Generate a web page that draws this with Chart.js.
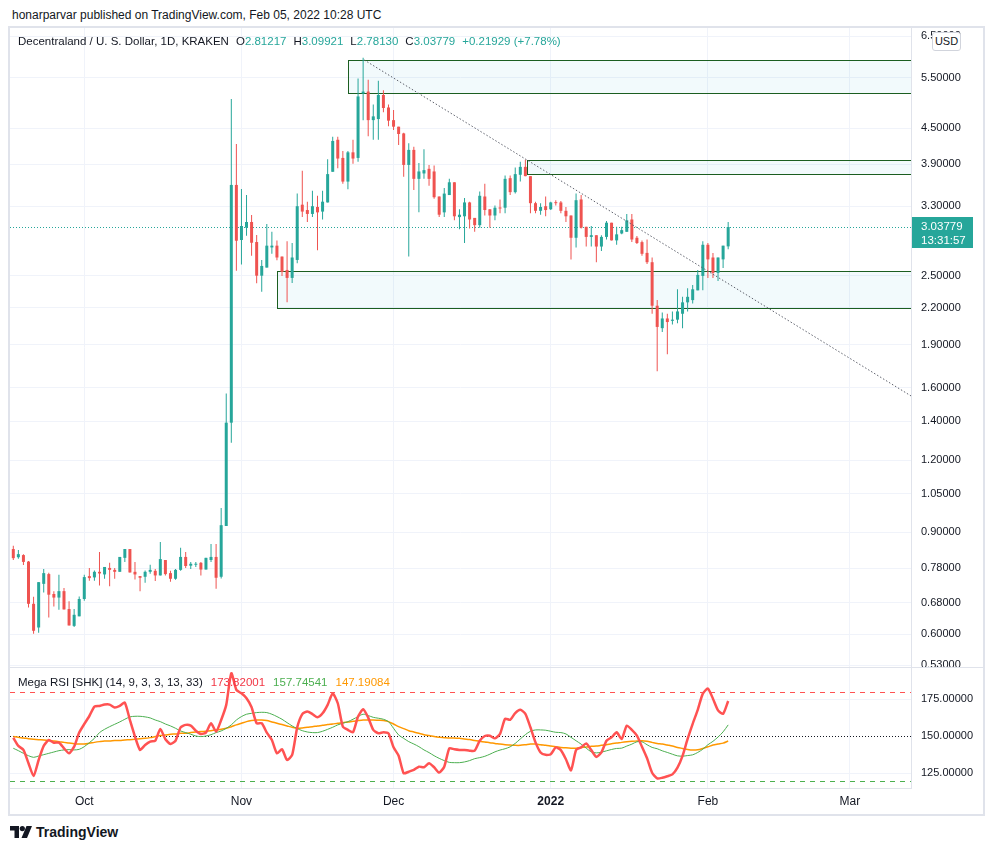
<!DOCTYPE html>
<html>
<head>
<meta charset="utf-8">
<title>Decentraland / U. S. Dollar, 1D</title>
<script src="https://cdn.jsdelivr.net/npm/chart.js@4.4.1/dist/chart.umd.min.js"></script>
<style>
  body { margin: 0; background: #fff; font-family: 'Liberation Sans', Arial, sans-serif; color: #131722; }
  #page { position: relative; width: 993px; height: 850px; overflow: hidden; }
  .abs { position: absolute; white-space: nowrap; }
  #published { left: 12px; top: 8px; font-size: 12px; }
  #frame { left: 8px; top: 26px; width: 973px; height: 786px; border: 2px solid #e0e3eb; }
  #priceCanvas { left: 10px; top: 28px; }
  #rsiCanvas { left: 10px; top: 668px; }
  #paneSep { left: 10px; top: 667px; width: 973px; height: 1px; background: #e0e3eb; }
  #legend { left: 18px; top: 35px; font-size: 11.5px; }
  #legend .v { color: #26a69a; }
  #legend .g { margin-left: 7px; }
  #rsiLegend { left: 18px; top: 676px; font-size: 11.5px; }
  #rsiLegend span { margin-left: 8px; }
  #usd { left: 932px; top: 32px; width: 27px; height: 17px; border: 1px solid #d1d4dc; border-radius: 3px;
         background: #fff; font-size: 11px; line-height: 17px; text-align: center; }
  #logo { left: 10px; top: 824px; font-size: 14px; font-weight: bold; display: flex; align-items: center; }
  #logo svg { margin-right: 4px; }
</style>
</head>
<body>
<div id="page">
  <div id="published" class="abs">honarparvar published on TradingView.com, Feb 05, 2022 10:28 UTC</div>
  <div id="frame" class="abs"></div>
  <canvas id="priceCanvas" class="abs" width="973" height="639"></canvas>
  <div id="paneSep" class="abs"></div>
  <canvas id="rsiCanvas" class="abs" width="973" height="146"></canvas>
  <div id="legend" class="abs">Decentraland / U. S. Dollar, 1D, KRAKEN<span class="g">O<span class="v">2.81217</span></span><span class="g">H<span class="v">3.09921</span></span><span class="g">L<span class="v">2.78130</span></span><span class="g">C<span class="v">3.03779</span></span><span class="g v">+0.21929 (+7.78%)</span></div>
  <div id="rsiLegend" class="abs">Mega RSI [SHK] (14, 9, 3, 3, 13, 33)<span style="color:#f23645">173.82001</span><span style="color:#4caf50">157.74541</span><span style="color:#ff9800">147.19084</span></div>
  <div id="usd" class="abs">USD</div>
  <div id="logo" class="abs">
    <svg width="22" height="12" viewBox="0 0 22 12"><path d="M0 0h9v12h-4.5v-7.5h-4.5z" fill="#131722"/><circle cx="12.3" cy="2.6" r="2.6" fill="#131722"/><path d="M16.5 0h5.5l-5 12h-5.5z" fill="#131722"/></svg>
    TradingView
  </div>
</div>

<script>
// daily candles, 2021-09-17 .. 2022-02-05 (index 0 = Sep 17)
const opens = [
  0.842, 0.815, 0.822, 0.801, 0.677, 0.616, 0.733, 0.762, 0.704, 0.694,
  0.712, 0.663, 0.620, 0.644, 0.690, 0.756, 0.752, 0.769, 0.761, 0.781,
  0.775, 0.769, 0.813, 0.842, 0.769, 0.756, 0.754, 0.769, 0.772, 0.758,
  0.806, 0.765, 0.748, 0.775, 0.816, 0.788, 0.791, 0.797, 0.776, 0.806,
  0.816, 0.754, 0.923, 1.393, 3.592, 2.884, 3.030, 3.099, 2.861, 2.502,
  2.584, 2.800, 2.820, 2.700, 2.560, 2.480, 2.664, 3.320, 3.250, 3.200,
  3.290, 3.230, 3.350, 3.785, 4.300, 4.000, 3.640, 4.090, 4.000, 5.170,
  5.210, 4.650, 4.670, 5.140, 4.890, 4.650, 4.530, 4.410, 3.890, 4.130,
  3.680, 3.760, 3.830, 3.790, 3.430, 3.220, 3.450, 3.630, 3.160, 3.170,
  3.350, 3.150, 3.060, 3.430, 3.260, 3.180, 3.280, 3.280, 3.690, 3.490,
  3.740, 3.860, 3.720, 3.340, 3.240, 3.300, 3.260, 3.350, 3.350, 3.240,
  3.180, 2.910, 3.390, 3.040, 2.920, 2.940, 2.810, 2.920, 3.090, 2.880,
  2.960, 2.980, 3.130, 2.910, 2.860, 2.740, 2.640, 2.220, 2.030, 2.110,
  2.090, 2.100, 2.150, 2.250, 2.270, 2.360, 2.500, 2.830, 2.690, 2.530,
  2.670, 2.812
];
const highs = [
  0.853, 0.839, 0.825, 0.803, 0.696, 0.738, 0.778, 0.766, 0.712, 0.760,
  0.721, 0.684, 0.663, 0.697, 0.760, 0.781, 0.773, 0.832, 0.784, 0.797,
  0.781, 0.816, 0.842, 0.842, 0.800, 0.756, 0.773, 0.791, 0.778, 0.866,
  0.806, 0.772, 0.778, 0.846, 0.832, 0.800, 0.800, 0.800, 0.813, 0.859,
  0.859, 0.992, 1.565, 5.056, 4.226, 3.534, 3.452, 3.187, 2.943, 2.664,
  3.075, 2.980, 2.880, 2.700, 2.870, 2.850, 3.470, 3.800, 3.360, 3.510,
  3.440, 3.510, 3.980, 4.350, 4.350, 4.110, 4.110, 4.300, 5.490, 5.960,
  5.460, 4.950, 5.440, 5.240, 4.950, 4.840, 4.530, 4.420, 4.240, 4.180,
  3.920, 4.140, 3.890, 3.880, 3.430, 3.550, 3.680, 3.630, 3.260, 3.410,
  3.360, 3.150, 3.500, 3.610, 3.260, 3.310, 3.390, 3.730, 3.730, 3.850,
  3.940, 3.970, 3.720, 3.360, 3.340, 3.430, 3.360, 3.380, 3.370, 3.290,
  3.180, 3.470, 3.450, 3.040, 3.050, 2.940, 2.940, 3.110, 3.090, 3.040,
  3.040, 3.200, 3.200, 2.930, 2.880, 2.890, 2.690, 2.270, 2.160, 2.150,
  2.170, 2.370, 2.300, 2.380, 2.410, 2.560, 2.870, 2.850, 2.740, 2.690,
  2.820, 3.099
];
const lows = [
  0.806, 0.810, 0.790, 0.667, 0.601, 0.603, 0.708, 0.641, 0.670, 0.661,
  0.662, 0.621, 0.617, 0.644, 0.685, 0.742, 0.742, 0.728, 0.748, 0.726,
  0.748, 0.769, 0.800, 0.767, 0.746, 0.712, 0.736, 0.763, 0.741, 0.758,
  0.758, 0.739, 0.745, 0.772, 0.781, 0.778, 0.784, 0.758, 0.776, 0.800,
  0.719, 0.749, 0.923, 1.286, 2.553, 2.615, 2.934, 2.709, 2.427, 2.348,
  2.584, 2.730, 2.660, 2.500, 2.250, 2.430, 2.630, 3.160, 3.100, 3.160,
  2.770, 3.130, 3.350, 3.785, 3.840, 3.610, 3.530, 3.910, 3.940, 4.650,
  4.360, 4.300, 4.300, 4.800, 4.540, 4.470, 4.210, 3.710, 2.700, 3.520,
  3.220, 3.680, 3.580, 3.400, 3.160, 3.160, 3.450, 3.120, 3.010, 2.850,
  3.020, 2.980, 3.030, 3.180, 3.030, 3.120, 3.210, 3.210, 3.450, 3.470,
  3.640, 3.720, 3.210, 3.210, 3.190, 3.170, 3.250, 3.310, 3.210, 3.100,
  2.670, 2.800, 3.020, 2.810, 2.810, 2.640, 2.760, 2.890, 2.880, 2.830,
  2.950, 2.980, 2.860, 2.840, 2.710, 2.620, 2.150, 1.710, 2.000, 1.830,
  2.060, 2.070, 2.030, 2.170, 2.240, 2.360, 2.360, 2.480, 2.480, 2.450,
  2.580, 2.781
];
const closes = [
  0.812, 0.825, 0.800, 0.677, 0.608, 0.738, 0.765, 0.702, 0.694, 0.712,
  0.662, 0.621, 0.648, 0.690, 0.753, 0.750, 0.769, 0.764, 0.784, 0.775,
  0.769, 0.816, 0.842, 0.767, 0.761, 0.751, 0.769, 0.775, 0.758, 0.809,
  0.762, 0.748, 0.775, 0.816, 0.787, 0.794, 0.794, 0.776, 0.813, 0.816,
  0.751, 0.926, 1.393, 3.592, 2.876, 3.050, 3.099, 2.853, 2.502, 2.601,
  2.820, 2.820, 2.690, 2.540, 2.480, 2.690, 3.300, 3.230, 3.200, 3.300,
  3.220, 3.360, 3.750, 4.280, 3.990, 3.640, 4.090, 3.990, 5.110, 5.210,
  4.650, 4.720, 5.140, 4.880, 4.640, 4.530, 4.400, 3.890, 4.130, 3.680,
  3.790, 3.810, 3.680, 3.420, 3.190, 3.470, 3.630, 3.170, 3.190, 3.350,
  3.130, 3.060, 3.440, 3.250, 3.180, 3.280, 3.270, 3.680, 3.490, 3.750,
  3.860, 3.720, 3.340, 3.240, 3.290, 3.250, 3.350, 3.340, 3.240, 3.170,
  2.910, 3.380, 3.030, 2.920, 2.940, 2.810, 2.920, 3.090, 2.880, 2.950,
  3.000, 3.120, 2.890, 2.850, 2.730, 2.640, 2.220, 2.040, 2.110, 2.080,
  2.100, 2.170, 2.250, 2.300, 2.370, 2.510, 2.830, 2.670, 2.530, 2.690,
  2.820, 3.03779
];

// Mega RSI [SHK]
const rsiMain = [
  149, 143.5, 140.8, 131.8, 123.2, 134, 143.5, 147.5, 145.7, 145.7,
  141.9, 138.5, 143, 152.5, 158.3, 163.7, 170, 170.5, 171.4, 171.4,
  169.4, 170.5, 172.7, 161, 149.8, 140.8, 144.1, 146.4, 147, 155,
  148, 144.8, 147, 156, 157.7, 157.2, 153.8, 151.6, 152.5, 158.8,
  153.2, 161, 171.2, 192.6, 181.3, 179, 175.7, 169.6, 158.8, 158.8,
  152.5, 147.5, 138.5, 141.2, 134, 137.4, 156, 165, 166.7, 165,
  162.8, 165.5, 171.2, 179, 172.3, 156.5, 154.3, 152.7, 163.3, 168.2,
  162.6, 154.3, 152, 152.7, 152, 142.6, 136.9, 125, 126.1, 127.3,
  129.5, 129.1, 131.8, 129.1, 125.5, 129.5, 141.9, 141.2, 140.8, 140.8,
  140.3, 140.3, 147, 150.2, 150.4, 148.6, 151.6, 161.8, 161.1, 165.7,
  167.9, 165.2, 156.1, 145.9, 139.1, 137.5, 137.9, 142.5, 140.7, 134.5,
  127, 140.7, 142.5, 145.2, 140.7, 136.1, 139.1, 147, 149.3, 152.7,
  148.2, 157.2, 154.3, 150.4, 142.9, 135.2, 125.4, 121.6, 122, 123,
  124.3, 128.8, 136.8, 148.2, 158.4, 167.9, 178.8, 182.2, 175.4, 167.5,
  165.2, 173.8
];
const rsiSignal = [
  141.9, 140.3, 138.5, 136.9, 135.8, 136.7, 137.6, 138.5, 139.4, 140.3,
  140.8, 141, 140.8, 141.2, 143, 145.7, 148.6, 152.5, 154.7, 156.5,
  158.1, 159.7, 161.5, 163.1, 163.5, 163.5, 163.1, 162.4, 161, 159.9,
  158.3, 157, 155.4, 153.6, 152.5, 151.4, 150.2, 149.8, 150.2, 151.1,
  152.5, 153.6, 155.4, 157.7, 161, 163.3, 164.9, 165.5, 166, 166.2,
  166, 164.9, 163.3, 161.5, 159.2, 157, 155.2, 153.8, 152.9, 152.5,
  152.5, 153.4, 154.7, 156.1, 157.7, 158.8, 159.9, 161.5, 163.3, 164.9,
  164, 162.8, 162.2, 161.5, 159.9, 155.4, 150.9, 148.6, 146.4, 144.8,
  143, 140.8, 139, 136.9, 135.1, 133.6, 132.4, 132.2, 132.2, 132.7,
  133.6, 134.9, 135.6, 136.5, 137.9, 139.5, 140.7, 141.6, 142.9, 145.2,
  148.2, 151.1, 153.4, 154.3, 154.3, 154.1, 153.4, 152.7, 152.5, 151.6,
  149.3, 147, 144.7, 142, 139.5, 138.8, 139.3, 140.2, 141.1, 141.8,
  142, 143.4, 144.7, 146.3, 146.3, 144.3, 142.5, 141.6, 140.2, 139.1,
  137.9, 136.8, 136.6, 137, 137.5, 139.1, 141.3, 144.3, 146.6, 149.5,
  153, 157.7
];
const rsiSlow = [
  149.8, 149.3, 148.9, 148.4, 148, 147.7, 147.5, 147.1, 146.8, 146.4,
  145.9, 145.5, 145, 144.8, 144.8, 145.3, 145.9, 146.4, 146.8, 146.8,
  147.1, 147.1, 147.5, 147.7, 148, 148.4, 148.6, 149.1, 149.8, 150.5,
  150.9, 151.4, 151.6, 152, 152, 152.5, 152.9, 153.2, 153.4, 153.8,
  154.3, 154.7, 155.4, 156.5, 157.7, 158.8, 159.9, 160.6, 161, 161,
  160.6, 159.7, 158.8, 157.9, 157, 156.1, 155.4, 155.6, 156.1, 156.5,
  157, 157.4, 157.9, 158.3, 158.8, 159.2, 159.7, 160.1, 160.6, 161,
  161, 161, 160.8, 160.6, 159.9, 158.3, 156.5, 155.2, 153.8, 152.9,
  152, 151.1, 150.5, 149.8, 149.3, 149.1, 148.9, 148.9, 148.6, 148.2,
  147.8, 147.2, 146.6, 146.1, 145.7, 145.2, 144.8, 144.3, 144.1, 143.9,
  143.9, 144.3, 144.8, 144.8, 144.3, 143.9, 143.4, 142.9, 142.5, 142.2,
  142, 142, 142.5, 142.7, 143.2, 143.4, 143.9, 144.3, 145, 145.4,
  145.9, 146.3, 146.6, 146.8, 147, 146.6, 145.9, 145.2, 144.8, 144.1,
  143.4, 142.5, 141.8, 141.1, 140.7, 140.9, 141.8, 142.9, 144.1, 144.8,
  145.4, 146.8
];

const priceTicks = [6.5, 5.5, 4.5, 3.9, 3.3, 2.5, 2.2, 1.9, 1.6, 1.4, 1.2, 1.05, 0.9, 0.78, 0.68, 0.6, 0.53];
const rsiTicks = [125, 150, 175];
const rsiLevels = [180, 150, 120];
const monthTicks = [14, 45, 75, 106, 137, 165];
const monthLabels = ['Oct', 'Nov', 'Dec', '2022', 'Feb', 'Mar'];

// drawn rectangles: start day index, top price, bottom price
const zoneFrom = [66, 101.3, 52];
const zoneTop = [5.91, 3.967, 2.549];
const zoneBottom = [5.18, 3.751, 2.20];
// drawn trend line: [day index, price]
const trendLine = [[69.2, 5.91], [177.1, 1.549]];

const UP = '#26a69a';
const DOWN = '#ef5350';
const FONT = "'Liberation Sans', Arial, sans-serif";
const X_MIN = -0.65, X_MAX = 177.06;

const days = closes.map((_, i) => i);
const candleColors = days.map(i => closes[i] >= opens[i] ? UP : DOWN);

// no automatic label padding: the plot must fill the canvas edge to edge
function noPad(s) {
  s.paddingTop = 0;
  s.paddingBottom = 0;
  s.paddingLeft = 0;
  s.paddingRight = 0;
}

const drawingsPlugin = {
  id: 'drawings',
  beforeDatasetsDraw(chart) {
    const { ctx, chartArea: a, scales: { x, y } } = chart;
    ctx.save();
    ctx.beginPath();
    ctx.rect(a.left, a.top, a.width, a.height);
    ctx.clip();
    zoneFrom.forEach((from, k) => {
      const x0 = Math.round(x.getPixelForValue(from)) + 0.5;
      const y0 = Math.round(y.getPixelForValue(zoneTop[k])) + 0.5;
      const y1 = Math.round(y.getPixelForValue(zoneBottom[k])) + 0.5;
      ctx.fillStyle = 'rgba(0, 150, 200, 0.05)';
      ctx.fillRect(x0, y0, a.right - x0, y1 - y0);
      ctx.strokeStyle = '#1b5e20';
      ctx.lineWidth = 1;
      ctx.strokeRect(x0, y0, a.right - x0 + 5, y1 - y0);
    });
    // last price line
    const py = Math.round(y.getPixelForValue(closes[closes.length - 1])) + 0.5;
    ctx.strokeStyle = UP;
    ctx.setLineDash([1, 2]);
    ctx.beginPath();
    ctx.moveTo(a.left, py);
    ctx.lineTo(a.right, py);
    ctx.stroke();
    ctx.restore();
  },
  afterDatasetsDraw(chart) {
    const { ctx, chartArea: a, scales: { x, y } } = chart;
    ctx.save();
    ctx.beginPath();
    ctx.rect(a.left, a.top, a.width, a.height);
    ctx.clip();
    ctx.strokeStyle = '#5d606b';
    ctx.lineWidth = 1;
    ctx.setLineDash([1.5, 2]);
    ctx.beginPath();
    ctx.moveTo(x.getPixelForValue(trendLine[0][0]), y.getPixelForValue(trendLine[0][1]));
    ctx.lineTo(x.getPixelForValue(trendLine[1][0]), y.getPixelForValue(trendLine[1][1]));
    ctx.stroke();
    ctx.restore();
  },
  afterDraw(chart) {
    const { ctx, chartArea: a, scales: { y } } = chart;
    const last = closes[closes.length - 1];
    const py = Math.round(y.getPixelForValue(last));
    ctx.save();
    ctx.fillStyle = UP;
    ctx.fillRect(a.right + 1, py - 10, 61, 31);
    ctx.fillStyle = '#fff';
    ctx.font = '11.5px ' + FONT;
    ctx.textBaseline = 'middle';
    ctx.fillText(last.toFixed(5), a.right + 10, py);
    ctx.fillText('13:31:57', a.right + 10, py + 14);
    ctx.restore();
  }
};

new Chart(document.getElementById('priceCanvas'), {
  type: 'bar',
  data: {
    datasets: [
      {
        label: 'wick',
        data: days.map(i => ({ x: i, y: [lows[i], highs[i]] })),
        backgroundColor: candleColors,
        barThickness: 1,
        minBarLength: 1,
        grouped: false,
        inflateAmount: 0,
        order: 2
      },
      {
        label: 'body',
        data: days.map(i => ({ x: i, y: [opens[i], closes[i]] })),
        backgroundColor: candleColors,
        barThickness: 3,
        minBarLength: 1,
        grouped: false,
        inflateAmount: 0,
        order: 1
      }
    ]
  },
  options: {
    responsive: false,
    animation: false,
    layout: { padding: 0, autoPadding: false },
    plugins: { legend: { display: false }, tooltip: { enabled: false } },
    scales: {
      x: {
        type: 'linear',
        min: X_MIN,
        max: X_MAX,
        offset: false,
        afterBuildTicks: s => { s.ticks = monthTicks.map(v => ({ value: v })); },
        afterFit: s => { s.height = 0; noPad(s); },
        ticks: { display: false },
        grid: { color: '#f0f3fa', drawTicks: false, offset: false },
        border: { display: false }
      },
      y: {
        type: 'logarithmic',
        position: 'right',
        min: 0.5263,
        max: 6.712,
        afterBuildTicks: s => { s.ticks = priceTicks.map(v => ({ value: v })); },
        afterFit: s => { s.width = 72; noPad(s); },
        ticks: {
          autoSkip: false,
          padding: 10,
          color: '#131722',
          font: { family: FONT, size: 11 },
          callback: v => Number(v).toFixed(5)
        },
        grid: { color: '#f0f3fa', drawTicks: false },
        border: { display: true, color: '#e0e3eb' }
      }
    }
  },
  plugins: [drawingsPlugin]
});

const levelsPlugin = {
  id: 'levels',
  beforeDatasetsDraw(chart) {
    const { ctx, chartArea: a, scales: { y } } = chart;
    const styles = [
      { color: '#ff5252', dash: [5, 5] },
      { color: '#131722', dash: [1, 2] },
      { color: '#4caf50', dash: [5, 5] }
    ];
    ctx.save();
    rsiLevels.forEach((lvl, k) => {
      const py = Math.round(y.getPixelForValue(lvl)) + 0.5;
      ctx.strokeStyle = styles[k].color;
      ctx.setLineDash(styles[k].dash);
      ctx.lineWidth = 1;
      ctx.beginPath();
      ctx.moveTo(a.left, py);
      ctx.lineTo(a.right, py);
      ctx.stroke();
    });
    ctx.restore();
  }
};

new Chart(document.getElementById('rsiCanvas'), {
  type: 'line',
  data: {
    datasets: [
      {
        label: 'RSI',
        data: days.map(i => ({ x: i, y: rsiMain[i] })),
        borderColor: '#ff5252',
        borderWidth: 2.5,
        pointRadius: 0,
        tension: 0.2,
        clip: false
      },
      {
        label: 'Signal',
        data: days.map(i => ({ x: i, y: rsiSignal[i] })),
        borderColor: '#4caf50',
        borderWidth: 1,
        pointRadius: 0,
        tension: 0.3
      },
      {
        label: 'Slow',
        data: days.map(i => ({ x: i, y: rsiSlow[i] })),
        borderColor: '#ff9800',
        borderWidth: 1.5,
        pointRadius: 0,
        tension: 0.3
      }
    ]
  },
  options: {
    responsive: false,
    animation: false,
    layout: { padding: 0, autoPadding: false },
    plugins: { legend: { display: false }, tooltip: { enabled: false } },
    scales: {
      x: {
        type: 'linear',
        min: X_MIN,
        max: X_MAX,
        afterBuildTicks: s => { s.ticks = monthTicks.map(v => ({ value: v })); },
        afterFit: s => { s.height = 26; noPad(s); },
        ticks: {
          autoSkip: false,
          maxRotation: 0,
          padding: 6,
          color: '#131722',
          font: ctx => ({
            family: FONT,
            size: 12,
            weight: ctx.tick && ctx.tick.value === 106 ? 'bold' : 'normal'
          }),
          callback: v => monthLabels[monthTicks.indexOf(v)]
        },
        grid: { color: '#f0f3fa', drawTicks: false },
        border: { display: true, color: '#e0e3eb' }
      },
      y: {
        position: 'right',
        min: 115.1,
        max: 196.1,
        afterBuildTicks: s => { s.ticks = rsiTicks.map(v => ({ value: v })); },
        afterFit: s => { s.width = 72; noPad(s); },
        ticks: {
          autoSkip: false,
          padding: 10,
          color: '#131722',
          font: { family: FONT, size: 11 },
          callback: v => Number(v).toFixed(5)
        },
        grid: { color: ctx => ctx.tick && ctx.tick.value === 150 ? 'rgba(0,0,0,0)' : '#f0f3fa', drawTicks: false },
        border: { display: true, color: '#e0e3eb' }
      }
    }
  },
  plugins: [levelsPlugin]
});
</script>
</body>
</html>
